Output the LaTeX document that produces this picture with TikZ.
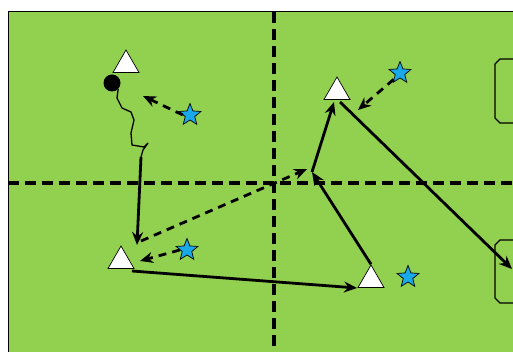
\documentclass[tikz,border=0pt]{standalone}
\usetikzlibrary{arrows.meta,shapes.geometric}
\definecolor{field}{HTML}{92D050}
\definecolor{starblue}{HTML}{1AA9E8}
\begin{document}
\begin{tikzpicture}[x=1pt,y=-1pt,
  cone/.style={regular polygon, regular polygon sides=3, minimum size=30pt, inner sep=0pt, draw=black, fill=white, line width=0.7pt},
  player/.style={star, star points=5, star point ratio=2.3, minimum size=23pt, inner sep=0pt, draw=black, fill=starblue, line width=0.7pt},
  fieldline/.style={line width=3.2pt, dash pattern=on 11pt off 6pt},
  run/.style={line width=2.8pt, -{Stealth[length=13pt,width=11pt]}},
  pass/.style={line width=2.8pt, dash pattern=on 8pt off 6pt, -{Stealth[length=13pt,width=11pt]}},
  dribble/.style={line width=1.3pt},
  goal/.style={line width=1.3pt}]
\useasboundingbox (0,0) rectangle (513,352);
\clip (0,0) rectangle (513,352);
% field
\fill[field] (8,12) rectangle (530,370);
\draw[line width=1pt] (8,370) -- (8,12) -- (530,12);
\draw[fieldline] (274,12) -- (274,360);
\draw[fieldline] (8,183) -- (520,183);
% goal boxes
\draw[goal] (520,59) -- (500,59) -- (495,64) -- (495,118) -- (500,123) -- (520,123);
\draw[goal] (520,240) -- (500,240) -- (495,245) -- (495,298) -- (500,303) -- (520,303);
% cones
\node[cone] (c1) at (126,65) {};
\node[cone] (c2) at (337,92) {};
\node[cone] (c3) at (121,261) {};
\node[cone] (c4) at (371,280) {};
% players
\node[player] (s1) at (190,115) {};
\node[player] (s2) at (400,73) {};
\node[player] (s3) at (187,250) {};
\node[player] (s4) at (408,277) {};
% ball
\node[circle, fill=black, minimum size=17pt, inner sep=0pt] (ball) at (112,83) {};
% coordinates
\coordinate (w) at (141,157);
\coordinate (m) at (312,172);
\coordinate (p) at (307,169);
\coordinate (b1) at (143,96);
\coordinate (b2) at (358,110);
\coordinate (b3) at (140,261);
\coordinate (g) at (512,269);
\coordinate (c3t) at (137,245);
\coordinate (c3d) at (141,241);
\coordinate (c2b) at (334,102);
\coordinate (c4l) at (357,288);
\coordinate (c3r) at (132,271);
\coordinate (c2s) at (340,102);
% dribble
\draw[dribble] (ball.south east) -- (117,98) -- (122,108) -- (131,112) -- (134,120) -- (131,133) -- (132,145) -- (144,147) -- (148,143) -- (143,150) -- (w);
% runs
\draw[run] (w) -- (c3t);
\draw[run] (c3r) -- (c4l);
\draw[run] (c4.corner 1) -- (m);
\draw[run] (m) -- (c2b);
\draw[run] (c2s) -- (g);
% passes
\draw[pass] (c3d) -- (p);
\draw[pass] (s1.west) -- (b1);
\draw[pass] (s2.south west) -- (b2);
\draw[pass] (s3.west) -- (b3);
\end{tikzpicture}
\end{document}
